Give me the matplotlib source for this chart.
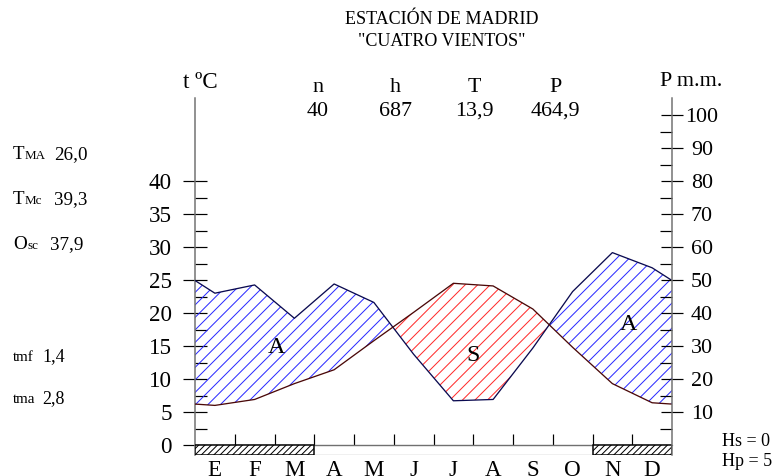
import matplotlib
matplotlib.use('Agg')
import matplotlib.pyplot as plt
import numpy as np
from matplotlib.patches import Rectangle

# ---------------- data ----------------
months = ['E', 'F', 'M', 'A', 'M', 'J', 'J', 'A', 'S', 'O', 'N', 'D']
temp = [6.0, 6.9, 9.3, 11.4, 15.8, 20.1, 24.5, 24.1, 20.6, 14.8, 9.3, 6.4]
precip = [46.0, 48.5, 38.4, 48.8, 43.2, 27.5, 13.4, 13.8, 29.4, 46.5, 58.3, 53.7]
frost_months = [0, 1, 2, 10, 11]
temp_ticks = [0, 5, 10, 15, 20, 25, 30, 35, 40]
precip_ticks = [10, 20, 30, 40, 50, 60, 70, 80, 90, 100]
header_names = ['n', 'h', 'T', 'P']
header_values = ['40', '687', '13,9', '464,9']
left_stats = [('T', 'MA', '26,0'), ('T', 'Mc', '39,3'), ('O', 'sc', '37,9'),
              ('', 'tmf', '1,4'), ('', 'tma', '2,8')]
area_labels = [('A', 2.05, 14.7), ('S', 7.0, 13.6), ('A', 10.9, 18.2)]

# ---------------- setup ----------------
DPI = 150
W, H = 773, 476
def p(px):
    return px * 72.0 / DPI

plt.rcParams['font.family'] = ['Liberation Serif', 'DejaVu Serif']
plt.rcParams['hatch.linewidth'] = p(1.0)

fig = plt.figure(figsize=(W / DPI, H / DPI), dpi=DPI)
x_left, x_right, y_top, y_bot = 195, 672, 98, 455
ax = fig.add_axes([x_left / W, (H - y_bot) / H, (x_right - x_left) / W, (y_bot - y_top) / H])
k = 6.6  # px per degree
y0 = 445
ylo = -(y_bot - y0) / k
yhi = (y0 - y_top) / k
ax.set_xlim(0, 12)
ax.set_ylim(ylo, yhi)

# extended series (edges = mean of Dec and Jan)
xs = np.array([0.0] + [i + 0.5 for i in range(12)] + [12.0])
T = np.array([(temp[0] + temp[-1]) / 2] + temp + [(temp[0] + temp[-1]) / 2])
P = np.array([(precip[0] + precip[-1]) / 2] + precip + [(precip[0] + precip[-1]) / 2])
P2 = P / 2.0

ax.fill_between(xs, T, P2, where=P2 >= T, interpolate=True, facecolor='none',
                edgecolor='#2a2aff', hatch='////', linewidth=0, zorder=2)
ax.fill_between(xs, T, P2, where=T >= P2, interpolate=True, facecolor='none',
                edgecolor='#ff2a2a', hatch='////', linewidth=0, zorder=2)
ax.plot(xs, P2, color='#0a0a50', lw=p(1.3), zorder=3)
ax.plot(xs, T, color='#4a0808', lw=p(1.3), zorder=3)

for lab, xx, yy in area_labels:
    ax.text(xx, yy, lab, fontsize=p(24), ha='center', va='center', zorder=4)

# bottom strip
ax.add_patch(Rectangle((0, ylo), 12, -ylo, facecolor='white', edgecolor='#707070',
                       lw=p(1.2), zorder=2))
runs = []
for m in sorted(frost_months):
    if runs and runs[-1][1] == m:
        runs[-1][1] = m + 1
    else:
        runs.append([m, m + 1])
for a, b in runs:
    ax.add_patch(Rectangle((a, ylo), b - a, -ylo, facecolor='white', edgecolor='black',
                           hatch='////////', lw=p(1.5), zorder=3))

# spines
for s in ['top', 'right']:
    ax.spines[s].set_visible(False)
ax.spines['left'].set_color('#707070')
ax.spines['left'].set_linewidth(p(1.5))
ax.spines['bottom'].set_position(('data', 0))
ax.spines['bottom'].set_color('#707070')
ax.spines['bottom'].set_linewidth(p(1.2))

# x ticks
ax.set_xticks([i + 0.5 for i in range(12)])
ax.set_xticklabels(months, fontsize=p(23))
ax.set_xticks(list(range(1, 12)), minor=True)
ax.tick_params(axis='x', which='major', length=0, pad=p(15))
ax.tick_params(axis='x', which='minor', direction='in', length=p(11), width=p(1.2), color='black')

# left y ticks
ax.set_yticks(temp_ticks)
ax.set_yticklabels([str(t) for t in temp_ticks], fontsize=p(23))
ax.set_yticks([t + 2.5 for t in temp_ticks[:-1]], minor=True)
ax.tick_params(axis='y', which='major', direction='inout', length=p(24), width=p(1.2),
               pad=p(11), color='black')
ax.tick_params(axis='y', which='minor', direction='in', length=p(12), width=p(1.2), color='black')

# right axis (precip)
ax2 = ax.twinx()
ax2.set_ylim(2 * ylo, 2 * yhi)
for s in ['top', 'left', 'bottom']:
    ax2.spines[s].set_visible(False)
ax2.spines['right'].set_color('#707070')
ax2.spines['right'].set_linewidth(p(1.5))
ax2.set_yticks(precip_ticks)
ax2.set_yticklabels([str(v) for v in precip_ticks], fontsize=p(22))
ax2.set_yticks([v - 5 for v in precip_ticks], minor=True)
ax2.tick_params(axis='y', which='major', direction='inout', length=p(22), width=p(1.2),
                pad=p(19), color='black')
ax2.tick_params(axis='y', which='minor', direction='in', length=p(12), width=p(1.2), color='black')
for lbl in ax2.get_yticklabels():
    lbl.set_horizontalalignment('center')

# ---------------- texts ----------------
def ftext(xp, yp, s, size, **kw):
    fig.text(xp / W, 1 - yp / H, s, fontsize=p(size), **kw)

ftext(442, 20, 'ESTACIÓN DE MADRID', 18, ha='center', va='center')
ftext(442, 42, '"CUATRO VIENTOS"', 18, ha='center', va='center')
ftext(200, 82, 't ºC', 23, ha='center', va='center')
ftext(691, 82, 'P m.m.', 22, ha='center', va='center')
for xp, nm, val in zip([318, 395, 474, 555], header_names, header_values):
    ftext(xp, 87, nm, 22, ha='center', va='center')
    ftext(xp, 111, val, 22, ha='center', va='center')

rows_y = [159, 204, 249, 361, 403]
for (big, small, val), yb in zip(left_stats, rows_y):
    if big:
        ftext(13, yb, big, 19, ha='left', va='baseline')
        ftext(25 if big == 'T' else 27, yb, small, 13, ha='left', va='baseline')
        ftext(54 if big == 'T' else 50, yb, val, 19, ha='left', va='baseline')
    else:
        ftext(13, yb, small, 15, ha='left', va='baseline')
        ftext(42, yb, val, 18, ha='left', va='baseline')

ftext(722, 441, 'Hs = 0', 18, ha='left', va='center')
ftext(722, 462, 'Hp = 5', 18, ha='left', va='center')

fig.savefig('out.png', dpi=DPI)
